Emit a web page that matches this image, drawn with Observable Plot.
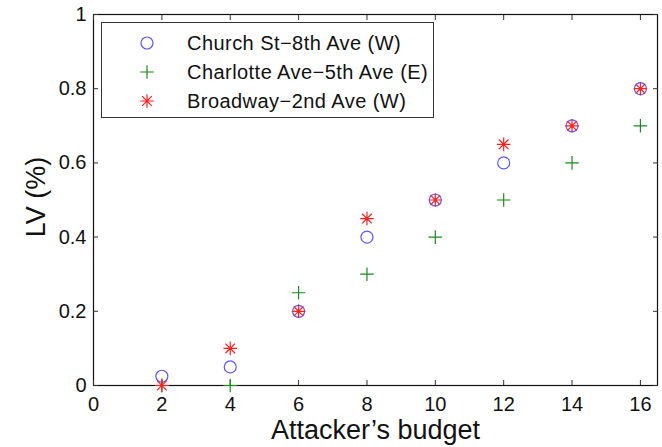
<!DOCTYPE html>
<html>
<head>
<meta charset="utf-8">
<script src="https://cdn.jsdelivr.net/npm/d3@7"></script>
<script src="https://cdn.jsdelivr.net/npm/@observablehq/plot@0.6"></script>
<style>
  body { margin: 0; background: #fff; }
  #chart { position: relative; width: 662px; height: 447px; font-family: "Liberation Sans", Arial, sans-serif; }
  #legend { position: absolute; left: 101px; top: 22px; width: 333px; height: 96px; border: 1px solid #333; background: #fff; box-sizing: border-box; }
  #legend .row { position: absolute; left: 85px; font-size: 20px; letter-spacing: 0.45px; color: #111; white-space: nowrap; line-height: 1; }
  #legend svg { position: absolute; left: 0; top: 0; }
</style>
</head>
<body>
<div id="chart"></div>
<script>
// Attacker's budget on the x axis
const budgets = [2, 4, 6, 8, 10, 12, 14, 16];

// LV (%) per road segment
const churchSt   = [0.025, 0.05, 0.2, 0.4, 0.5, 0.6, 0.7, 0.8];
const charlotte  = [0, 0, 0.25, 0.3, 0.4, 0.5, 0.6, 0.7];
const broadway   = [0, 0.1, 0.2, 0.45, 0.5, 0.65, 0.7, 0.8];

const seriesNames = ["Church St\u22128th Ave (W)", "Charlotte Ave\u22125th Ave (E)", "Broadway\u22122nd Ave (W)"];
const seriesColors = ["#5a5aff", "#1a8c1a", "#ff2020"];

const xTicks = [0, 2, 4, 6, 8, 10, 12, 14, 16];
const yTicks = [0, 0.2, 0.4, 0.6, 0.8, 1];
const yTickLabels = ["0", "0.2", "0.4", "0.6", "0.8", "1"];

// Stroked marker shapes (plus and eight-armed asterisk)
const plusSymbol = {
  draw(ctx, size) {
    const r = Math.sqrt(size / Math.PI);
    ctx.moveTo(-r, 0); ctx.lineTo(r, 0);
    ctx.moveTo(0, -r); ctx.lineTo(0, r);
  }
};
const starSymbol = {
  draw(ctx, size) {
    const r = Math.sqrt(size / Math.PI);
    const d = r * Math.SQRT1_2;
    ctx.moveTo(-r, 0); ctx.lineTo(r, 0);
    ctx.moveTo(0, -r); ctx.lineTo(0, r);
    ctx.moveTo(-d, -d); ctx.lineTo(d, d);
    ctx.moveTo(-d, d); ctx.lineTo(d, -d);
  }
};
const symbols = ["circle", plusSymbol, starSymbol];
const radii = [6, 6.8, 6.8];

const table = (values) => budgets.map((b, i) => ({budget: b, lv: values[i]}));
const tables = [table(churchSt), table(charlotte), table(broadway)];

const font = "Liberation Sans, Arial, sans-serif";

const plot = Plot.plot({
  width: 662,
  height: 447,
  marginLeft: 93,
  marginRight: 5,
  marginTop: 14,
  marginBottom: 62,
  style: {fontFamily: font, background: "#fff", color: "#111"},
  x: {domain: [0, 16.5]},
  y: {domain: [0, 1]},
  marks: [
    Plot.frame({stroke: "#111", strokeWidth: 1.2}),
    Plot.axisX({anchor: "bottom", ticks: xTicks, tickSize: -5, tickPadding: 16, fontSize: 20, label: null, stroke: "#333"}),
    Plot.axisX({anchor: "top", ticks: xTicks, tickSize: -5, tickFormat: () => "", label: null, stroke: "#333"}),
    Plot.axisY({anchor: "left", ticks: yTicks, tickSize: -5, tickPadding: 12, fontSize: 20, label: null, stroke: "#333",
      tickFormat: (d) => yTickLabels[yTicks.findIndex((t) => Math.abs(t - d) < 1e-9)]}),
    Plot.axisY({anchor: "right", ticks: yTicks, tickSize: -5, tickFormat: () => "", label: null, stroke: "#333"}),
    Plot.text(["Attacker\u2019s budget"], {frameAnchor: "bottom", dy: 45, lineAnchor: "middle", textAnchor: "middle", fontSize: 27, fill: "#111"}),
    Plot.text(["LV (%)"], {frameAnchor: "left", dx: -57, dy: -3, rotate: -90, lineAnchor: "middle", textAnchor: "middle", fontSize: 27, fill: "#111"}),
    ...tables.map((t, i) => Plot.dot(t, {
      x: "budget", y: "lv", symbol: symbols[i], r: radii[i],
      stroke: seriesColors[i], strokeWidth: 1.2, fill: "none", clip: false
    }))
  ]
});

const chart = document.getElementById("chart");
chart.appendChild(plot);

// Legend box
const legend = document.createElement("div");
legend.id = "legend";
const rowsY = [20, 49, 78];
const svg = d3.create("svg").attr("width", 330).attr("height", 93);
seriesNames.forEach((name, i) => {
  const area = radii[i] * radii[i] * Math.PI;
  const type = symbols[i] === "circle" ? d3.symbolCircle : symbols[i];
  svg.append("path")
    .attr("transform", `translate(45,${rowsY[i]})`)
    .attr("d", d3.symbol(type, area)())
    .attr("fill", "none")
    .attr("stroke", seriesColors[i])
    .attr("stroke-width", 1.2);
  const row = document.createElement("div");
  row.className = "row";
  row.style.top = (rowsY[i] - 10) + "px";
  row.textContent = name;
  legend.appendChild(row);
});
legend.appendChild(svg.node());
chart.appendChild(legend);
</script>
</body>
</html>
